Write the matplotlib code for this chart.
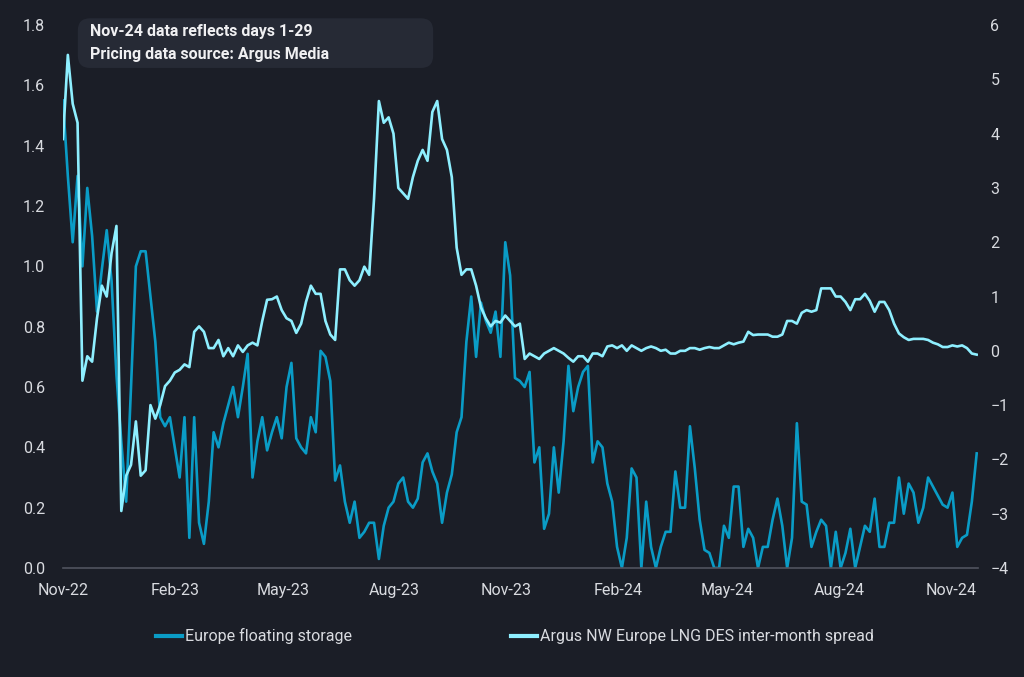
import matplotlib.pyplot as plt
import numpy as np
import pandas as pd
from matplotlib.patches import FancyBboxPatch
from matplotlib.ticker import FormatStrFormatter

# values, one every 4 days from 1 Nov 2022
storage = [
    1.55, 1.3, 1.08, 1.3, 1.0, 1.26, 1.1, 0.85, 0.99, 1.12,
    0.95, 0.64, 0.42, 0.22, 0.6, 1.0, 1.05, 1.05, 0.9, 0.75,
    0.5, 0.47, 0.5, 0.4, 0.3, 0.5, 0.1, 0.5, 0.15, 0.08,
    0.22, 0.45, 0.4, 0.48, 0.54, 0.6, 0.5, 0.6, 0.71, 0.3,
    0.42, 0.5, 0.39, 0.45, 0.5, 0.43, 0.6, 0.68, 0.43, 0.4,
    0.38, 0.5, 0.45, 0.72, 0.7, 0.62, 0.29, 0.34, 0.22, 0.15,
    0.22, 0.1, 0.12, 0.15, 0.15, 0.03, 0.14, 0.2, 0.22, 0.28,
    0.3, 0.22, 0.2, 0.23, 0.35, 0.38, 0.32, 0.28, 0.15, 0.25,
    0.31, 0.45, 0.5, 0.75, 0.9, 0.7, 0.88, 0.82, 0.78, 0.85,
    0.7, 1.08, 0.97, 0.63, 0.62, 0.6, 0.65, 0.35, 0.4, 0.13,
    0.18, 0.4, 0.25, 0.42, 0.67, 0.52, 0.6, 0.65, 0.67, 0.35,
    0.42, 0.4, 0.28, 0.22, 0.07, 0.0, 0.1, 0.33, 0.3, 0.0,
    0.22, 0.07, 0.0, 0.07, 0.12, 0.12, 0.32, 0.2, 0.2, 0.47,
    0.33, 0.16, 0.06, 0.05, 0.0, 0.0, 0.14, 0.1, 0.27, 0.27,
    0.07, 0.13, 0.1, 0.0, 0.07, 0.07, 0.16, 0.23, 0.14, 0.0,
    0.1, 0.48, 0.22, 0.21, 0.07, 0.12, 0.16, 0.14, 0.0, 0.12,
    0.0, 0.05, 0.13, 0.0, 0.07, 0.14, 0.12, 0.23, 0.07, 0.07,
    0.15, 0.15, 0.3, 0.18, 0.28, 0.25, 0.15, 0.2, 0.3, 0.27,
    0.24, 0.21, 0.2, 0.25, 0.07, 0.1, 0.11, 0.22, 0.38,
]

spread = [
    3.9, 5.45, 4.55, 4.2, -0.55, -0.1, -0.2, 0.6, 1.2, 1.0,
    1.8, 2.3, -2.95, -2.3, -2.1, -1.3, -2.3, -2.2, -1.0, -1.25,
    -1.0, -0.65, -0.55, -0.4, -0.35, -0.25, -0.3, 0.35, 0.45, 0.35,
    0.05, 0.05, 0.2, -0.1, 0.05, -0.1, 0.1, -0.02, 0.1, 0.15,
    0.1, 0.55, 0.94, 0.95, 1.0, 0.75, 0.6, 0.55, 0.33, 0.5,
    0.9, 1.2, 1.05, 1.05, 0.55, 0.3, 0.2, 1.5, 1.5, 1.3,
    1.2, 1.3, 1.55, 1.4, 2.8, 4.6, 4.2, 4.3, 4.0, 3.0,
    2.9, 2.8, 3.2, 3.5, 3.7, 3.5, 4.4, 4.6, 3.9, 3.7,
    3.2, 1.9, 1.4, 1.5, 1.5, 1.2, 0.8, 0.6, 0.45, 0.55,
    0.52, 0.65, 0.55, 0.45, 0.5, -0.15, -0.05, -0.1, -0.15, -0.05,
    0.0, 0.05, 0.0, -0.05, -0.13, -0.2, -0.1, -0.1, -0.2, -0.05,
    -0.05, -0.1, 0.08, 0.1, 0.05, 0.1, 0.0, 0.1, 0.05, 0.0,
    0.05, 0.08, 0.05, 0.0, 0.02, -0.05, -0.05, 0.0, 0.0, 0.05,
    0.05, 0.02, 0.05, 0.07, 0.05, 0.05, 0.1, 0.15, 0.12, 0.15,
    0.17, 0.35, 0.29, 0.3, 0.3, 0.3, 0.26, 0.26, 0.3, 0.55,
    0.55, 0.5, 0.7, 0.75, 0.72, 0.75, 1.15, 1.15, 1.15, 1.0,
    1.0, 0.9, 0.75, 0.95, 0.95, 1.05, 0.92, 0.72, 0.9, 0.9,
    0.75, 0.5, 0.32, 0.25, 0.2, 0.22, 0.22, 0.22, 0.2, 0.15,
    0.12, 0.07, 0.07, 0.1, 0.08, 0.1, 0.05, -0.05, -0.07,
]

series_labels = ['Europe floating storage',
                 'Argus NW Europe LNG DES inter-month spread']
note_lines = ['Nov-24 data reflects days 1-29',
              'Pricing data source: Argus Media']

BG = '#1b1e27'
TXT = '#d9dbe0'

dates = pd.date_range('2022-11-01', periods=len(storage), freq='4D')

plt.rcParams['font.family'] = ['Roboto', 'DejaVu Sans']

fig = plt.figure(figsize=(10.24, 6.77), dpi=100, facecolor=BG)
ax = fig.add_axes([0.0615, 0.161, 0.8935, 0.802])
ax.set_facecolor(BG)
ax2 = ax.twinx()

l1, = ax.plot(dates, storage, color='#0a9cc6', lw=1.9)
l2, = ax2.plot(dates, spread, color='#8eefff', lw=1.9)

ax.set_ylim(0, 1.8)
ax.set_yticks(np.arange(0, 1.81, 0.2))
ax.yaxis.set_major_formatter(FormatStrFormatter('%.1f'))
ax2.set_ylim(-4, 6)
ax2.set_yticks(range(-4, 7))

ax.set_xlim(pd.Timestamp('2022-11-01'), pd.Timestamp('2024-11-23'))
xt = pd.date_range('2022-11-01', '2024-11-01', freq='3MS')
ax.set_xticks(xt)
ax.set_xticklabels([d.strftime('%b-%y') for d in xt])

for a in (ax, ax2):
    for s in a.spines.values():
        s.set_visible(False)
ax.spines['bottom'].set_visible(True)
ax.spines['bottom'].set_color('#50545f')
ax.spines['bottom'].set_linewidth(1.2)

ax.tick_params(axis='y', length=0, colors=TXT, labelsize=11.5, pad=13)
ax.tick_params(axis='x', length=0, colors=TXT, labelsize=11.5, pad=11)
ax2.tick_params(axis='y', length=0, colors=TXT, labelsize=11.5, pad=9)

leg = fig.legend([l1, l2], series_labels, loc='center', bbox_to_anchor=(0.503, 0.06),
                 ncol=2, frameon=False, fontsize=11.5, labelcolor=TXT,
                 handlelength=1.6, handletextpad=0.2, columnspacing=10)
for h in leg.legend_handles:
    h.set_linewidth(3)

box = FancyBboxPatch((0.076, 0.8996), 0.347, 0.0734,
                     boxstyle='round,pad=0,rounding_size=0.012',
                     mutation_aspect=1024 / 677, transform=fig.transFigure,
                     facecolor='#262a35', edgecolor='none', zorder=5)
fig.patches.append(box)
fig.text(0.088, 0.953, note_lines[0], color='#f0f0f2', fontsize=11.5,
         fontweight='semibold', va='center', zorder=6)
fig.text(0.088, 0.919, note_lines[1], color='#f0f0f2', fontsize=11.5,
         fontweight='semibold', va='center', zorder=6)

fig.savefig('out.png', dpi=100, facecolor=BG)
